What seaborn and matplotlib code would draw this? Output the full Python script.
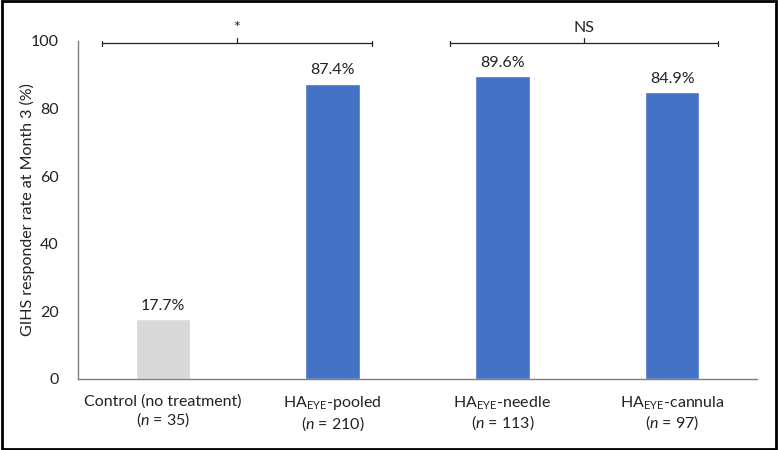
import matplotlib
matplotlib.use("Agg")
import matplotlib.pyplot as plt
import seaborn as sns
import pandas as pd
from matplotlib.patches import Rectangle

groups = ["Control", "Pooled", "Needle", "Cannula"]
tick_labels = [
    "Control (no treatment)\n($\\mathit{n}$ = 35)",
    "HA$_{\\mathregular{EYE}}$-pooled\n($\\mathit{n}$ = 210)",
    "HA$_{\\mathregular{EYE}}$-needle\n($\\mathit{n}$ = 113)",
    "HA$_{\\mathregular{EYE}}$-cannula\n($\\mathit{n}$ = 97)",
]
rates = [17.7, 87.4, 89.6, 84.9]
value_labels = ["17.7%", "87.4%", "89.6%", "84.9%"]
colors = ["#D9D9D9", "#4472C4", "#4472C4", "#4472C4"]
# (first group, last group, label, left overhang, right overhang)
brackets = [(0, 1, "*", 0.36, 0.23), (2, 3, "NS", 0.31, 0.27)]

sns.set_theme(style="white")
FONT = "Lato"
plt.rcParams["font.family"] = [FONT, "DejaVu Sans"]
plt.rcParams["mathtext.fontset"] = "custom"
plt.rcParams["mathtext.rm"] = FONT
plt.rcParams["mathtext.it"] = FONT + ":italic"
plt.rcParams["mathtext.default"] = "regular"

df = pd.DataFrame({"group": groups, "rate": rates})

fig = plt.figure(figsize=(7.78, 4.5), dpi=100)
ax = fig.add_axes([0.1003, 0.158, 0.8727, 0.751])
sns.barplot(data=df, x="group", y="rate", hue="group", palette=colors,
            width=0.32, legend=False, ax=ax, saturation=1)

fs = 11.5
ax.set_ylim(0, 100)
ax.set_xlim(-0.5, 3.5)
ax.set_yticks([0, 20, 40, 60, 80, 100])
ax.tick_params(axis="y", labelsize=fs, colors="#222222", length=0, pad=14)
ax.tick_params(axis="x", labelsize=fs, colors="#222222", length=0, pad=11)
ax.set_xticks(range(len(groups)))
ax.set_xticklabels(tick_labels, linespacing=1.15)
ax.set_xlabel("")
ax.set_ylabel("GIHS responder rate at Month 3 (%)", fontsize=fs, color="#222222")
ax.yaxis.set_label_coords(-0.075, 0.5)
ax.yaxis.label.set_va("center")

for s in ["top", "right"]:
    ax.spines[s].set_visible(False)
for s in ["left", "bottom"]:
    ax.spines[s].set_color("#7F7F7F")
    ax.spines[s].set_linewidth(1.0)

for i, (v, lab) in enumerate(zip(rates, value_labels)):
    ax.annotate(lab, (i, v), xytext=(0, 4.5), textcoords="offset points",
                ha="center", va="bottom", fontsize=fs, color="#222222")

for a, b, txt, lo, ro in brackets:
    x0 = a - lo
    x1 = b + ro
    xm = (x0 + x1) / 2
    y = 99.5
    kw = dict(color="#222222", lw=0.9, clip_on=False)
    ax.plot([x0, x1], [y, y], **kw)
    ax.plot([x0, x0], [y + 0.4, y - 1.0], **kw)
    ax.plot([x1, x1], [y + 0.4, y - 1.0], **kw)
    ax.plot([xm, xm], [y, y + 1.3], **kw)
    ax.text(xm, y + 2.2, txt, ha="center", va="bottom", fontsize=fs, color="#222222")

fig.patches.append(Rectangle((0.002, 0.003), 0.996, 0.994, transform=fig.transFigure,
                             fill=False, edgecolor="black", linewidth=2.0))

fig.savefig("out.png", dpi=100)
